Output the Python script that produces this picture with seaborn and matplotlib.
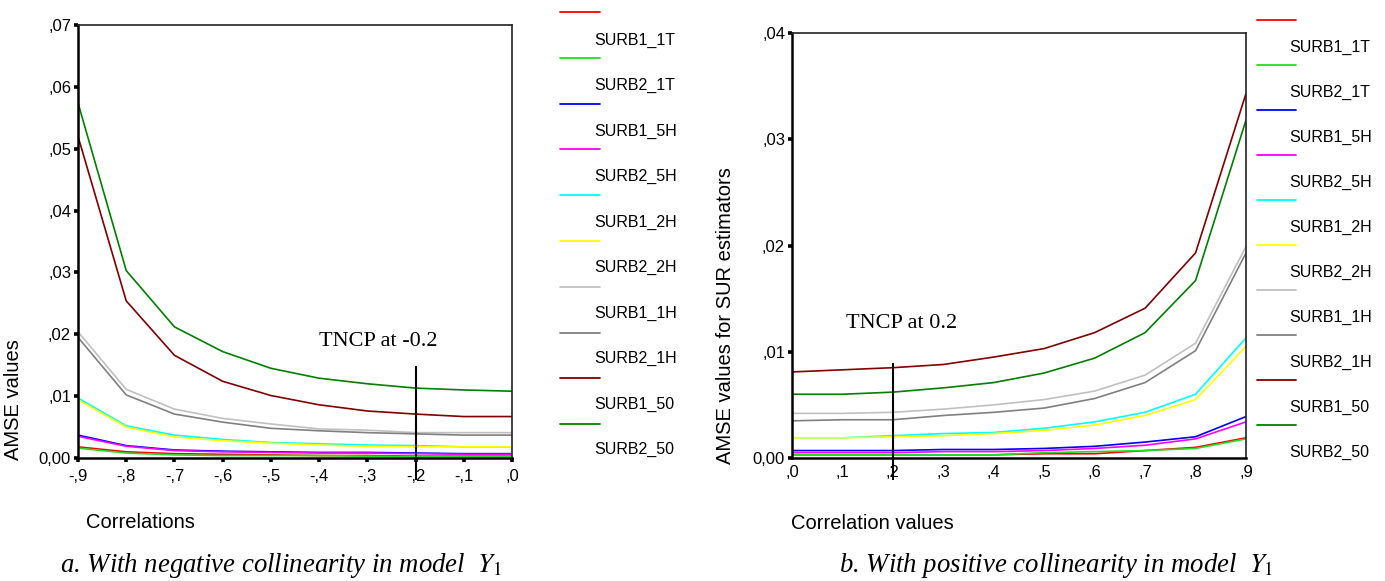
import numpy as np
import pandas as pd
import matplotlib
matplotlib.use("Agg")
import matplotlib.pyplot as plt
from matplotlib.lines import Line2D
import seaborn as sns

# ---- data -------------------------------------------------------------
corr_neg = [-0.9, -0.8, -0.7, -0.6, -0.5, -0.4, -0.3, -0.2, -0.1, 0.0]
corr_pos = [0.0, 0.1, 0.2, 0.3, 0.4, 0.5, 0.6, 0.7, 0.8, 0.9]

series = ["SURB1_1T", "SURB2_1T", "SURB1_5H", "SURB2_5H", "SURB1_2H",
          "SURB2_2H", "SURB1_1H", "SURB2_1H", "SURB1_50", "SURB2_50"]
colors = ["#ff0000", "#22dd22", "#0000ff", "#ff00ff", "#00ffff",
          "#ffff00", "#c0c0c0", "#808080", "#800000", "#008000"]

neg_SURB1_1T = [0.0018, 0.0010, 0.0007, 0.0006, 0.0005, 0.0004, 0.0004, 0.0003, 0.0003, 0.0003]
neg_SURB2_1T = [0.0016, 0.0008, 0.0005, 0.0004, 0.0004, 0.0004, 0.0003, 0.0002, 0.0002, 0.0002]
neg_SURB1_5H = [0.0037, 0.0020, 0.0013, 0.0011, 0.0010, 0.0009, 0.0009, 0.0008, 0.0007, 0.0007]
neg_SURB2_5H = [0.0035, 0.0019, 0.0012, 0.0010, 0.0009, 0.0008, 0.0008, 0.0007, 0.0006, 0.0006]
neg_SURB1_2H = [0.0097, 0.0052, 0.0037, 0.0030, 0.0025, 0.0023, 0.0021, 0.0020, 0.0018, 0.0018]
neg_SURB2_2H = [0.0094, 0.0050, 0.0034, 0.0028, 0.0024, 0.0021, 0.0019, 0.0018, 0.0018, 0.0018]
neg_SURB1_1H = [0.0204, 0.0111, 0.0079, 0.0064, 0.0055, 0.0047, 0.0045, 0.0041, 0.0041, 0.0041]
neg_SURB2_1H = [0.0195, 0.0102, 0.0071, 0.0058, 0.0048, 0.0044, 0.0041, 0.0039, 0.0037, 0.0037]
neg_SURB1_50 = [0.0520, 0.0254, 0.0166, 0.0124, 0.0101, 0.0086, 0.0076, 0.0071, 0.0067, 0.0067]
neg_SURB2_50 = [0.0574, 0.0303, 0.0212, 0.0172, 0.0145, 0.0129, 0.0120, 0.0113, 0.0110, 0.0108]

pos_SURB1_1T = [0.0003, 0.0003, 0.0003, 0.0003, 0.0003, 0.0004, 0.0004, 0.0007, 0.0010, 0.0019]
pos_SURB2_1T = [0.0003, 0.0003, 0.0003, 0.0003, 0.0003, 0.0005, 0.0006, 0.0007, 0.0009, 0.0018]
pos_SURB1_5H = [0.0007, 0.0007, 0.0007, 0.0008, 0.0008, 0.0009, 0.0011, 0.0015, 0.0020, 0.0039]
pos_SURB2_5H = [0.0005, 0.0005, 0.0005, 0.0006, 0.0006, 0.0007, 0.0009, 0.0012, 0.0018, 0.0034]
pos_SURB1_2H = [0.0019, 0.0019, 0.0021, 0.0023, 0.0024, 0.0028, 0.0034, 0.0043, 0.0060, 0.0113]
pos_SURB2_2H = [0.0019, 0.0019, 0.0020, 0.0021, 0.0023, 0.0026, 0.0031, 0.0040, 0.0055, 0.0105]
pos_SURB1_1H = [0.0042, 0.0042, 0.0043, 0.0046, 0.0050, 0.0055, 0.0063, 0.0078, 0.0108, 0.0199]
pos_SURB2_1H = [0.0035, 0.0036, 0.0036, 0.0040, 0.0043, 0.0047, 0.0056, 0.0071, 0.0101, 0.0193]
pos_SURB1_50 = [0.0081, 0.0083, 0.0085, 0.0088, 0.0095, 0.0103, 0.0118, 0.0141, 0.0193, 0.0343]
pos_SURB2_50 = [0.0060, 0.0060, 0.0062, 0.0066, 0.0071, 0.0080, 0.0094, 0.0118, 0.0167, 0.0318]

neg_values = [neg_SURB1_1T, neg_SURB2_1T, neg_SURB1_5H, neg_SURB2_5H, neg_SURB1_2H,
              neg_SURB2_2H, neg_SURB1_1H, neg_SURB2_1H, neg_SURB1_50, neg_SURB2_50]
pos_values = [pos_SURB1_1T, pos_SURB2_1T, pos_SURB1_5H, pos_SURB2_5H, pos_SURB1_2H,
              pos_SURB2_2H, pos_SURB1_1H, pos_SURB2_1H, pos_SURB1_50, pos_SURB2_50]

neg_yticks = [0.0, 0.01, 0.02, 0.03, 0.04, 0.05, 0.06, 0.07]
pos_yticks = [0.0, 0.01, 0.02, 0.03, 0.04]
tncp_neg = -0.2
tncp_pos = 0.2


def long_frame(x, values):
    rows = []
    for name, vals in zip(series, values):
        for xv, yv in zip(x, vals):
            rows.append({"corr": xv, "amse": yv, "estimator": name})
    return pd.DataFrame(rows)


def comma_label(v, decimals, zero):
    if abs(v) < 1e-12:
        return zero
    s = f"{abs(v):.{decimals}f}".replace(".", ",")
    if s.startswith("0"):
        s = s[1:]
    return ("-" if v < 0 else "") + s


# ---- style ------------------------------------------------------------
sns.set_style("white")
plt.rcParams["font.family"] = ["Liberation Sans", "DejaVu Sans"]
plt.rcParams["mathtext.fontset"] = "stix"
for key in ["text.color", "axes.labelcolor", "xtick.color", "ytick.color"]:
    plt.rcParams[key] = "black"

SANS = "Liberation Sans"
SERIF = "Liberation Serif"
palette = dict(zip(series, colors))

W, H = 1385, 581
fig = plt.figure(figsize=(W / 100, H / 100), dpi=100)
ax1 = fig.add_axes([78 / W, 1 - 458 / H, 434 / W, 433 / H])
ax2 = fig.add_axes([792 / W, 1 - 458 / H, 454 / W, 425 / H])


def style_axes(ax, show_xticks):
    for side in ["left", "bottom"]:
        ax.spines[side].set_linewidth(1.8)
        ax.spines[side].set_color("black")
    for side in ["top", "right"]:
        ax.spines[side].set_linewidth(1.2)
        ax.spines[side].set_color("#222222")
    ax.tick_params(axis="y", direction="out", length=3, width=2.6,
                   color="black", labelcolor="black", labelsize=12, pad=2, left=True)
    ax.tick_params(axis="x", direction="out", length=3 if show_xticks else 0,
                   width=2.6, color="black", labelcolor="black", labelsize=12,
                   pad=5, bottom=True)
    ax.grid(False)


# ---- left panel: negative correlations --------------------------------
df_neg = long_frame(corr_neg, neg_values)
sns.lineplot(data=df_neg, x="corr", y="amse", hue="estimator", hue_order=series,
             palette=palette, linewidth=1.2, legend=False, ax=ax1)
ax1.set_xlim(-0.9, 0.0)
ax1.set_ylim(0.0, 0.07)
ax1.set_xticks(corr_neg)
ax1.set_xticklabels([comma_label(v, 1, ",0") for v in corr_neg])
ax1.set_yticks(neg_yticks)
ax1.set_yticklabels([comma_label(v, 2, "0,00") for v in neg_yticks])
style_axes(ax1, True)
ax1.set_xlabel("Correlations", fontsize=14.5, family=SANS)
ax1.set_ylabel("AMSE values", fontsize=14.5, family=SANS)
ax1.xaxis.set_label_coords(0.143, -0.150)
ax1.xaxis.label.set_va("center")
ax1.yaxis.set_label_coords(-0.127, 0.136)
ax1.vlines(tncp_neg, -0.00355, 0.0148, color="black", linewidth=1.5, clip_on=False, zorder=5)
ax1.text(-0.40, 0.0188, "TNCP at -0.2", family=SERIF, fontsize=16, va="center", ha="left")

# ---- right panel: positive correlations -------------------------------
df_pos = long_frame(corr_pos, pos_values)
sns.lineplot(data=df_pos, x="corr", y="amse", hue="estimator", hue_order=series,
             palette=palette, linewidth=1.2, legend=False, ax=ax2)
ax2.set_xlim(0.0, 0.9)
ax2.set_ylim(0.0, 0.04)
ax2.set_xticks(corr_pos)
ax2.set_xticklabels([comma_label(v, 1, ",0") for v in corr_pos])
ax2.set_yticks(pos_yticks)
ax2.set_yticklabels([comma_label(v, 2, "0,00") for v in pos_yticks])
style_axes(ax2, False)
ax2.set_xlabel("Correlation values", fontsize=14.5, family=SANS)
ax2.set_ylabel("AMSE values for SUR estimators", fontsize=14.5, family=SANS)
ax2.xaxis.set_label_coords(0.178, -0.153)
ax2.xaxis.label.set_va("center")
ax2.yaxis.set_label_coords(-0.1256, 0.334)
ax2.vlines(tncp_pos, -0.0021, 0.0089, color="black", linewidth=1.5, clip_on=False, zorder=5)
ax2.text(0.108, 0.0127, "TNCP at 0.2", family=SERIF, fontsize=16, va="center", ha="left")


# ---- legends: sample line above each label ---------------------------
def draw_key(x0, x1, xt, line_y0, line_step, text_y0, text_step):
    for i, (name, col) in enumerate(zip(series, colors)):
        ly = 1 - (line_y0 + i * line_step) / H
        fig.add_artist(Line2D([x0 / W, x1 / W], [ly, ly], color=col, linewidth=1.3))
        ty = 1 - (text_y0 + i * text_step) / H
        fig.text(xt / W, ty, name, family=SANS, fontsize=11.5, color="black",
                 ha="left", va="center")


draw_key(560, 600, 594, 12, 45.8, 40, 45.5)
draw_key(1257, 1296, 1289, 20, 45.0, 47, 45.0)

# ---- captions ---------------------------------------------------------
fig.text(60 / W, 1 - 566 / H, r"a. With negative collinearity in model  $Y_1$",
         family=SERIF, style="italic", fontsize=19.3, color="black", ha="left", va="center")
fig.text(839 / W, 1 - 566 / H, r"b. With positive collinearity in model  $Y_1$",
         family=SERIF, style="italic", fontsize=19.3, color="black", ha="left", va="center")

fig.savefig("out.png", dpi=100, facecolor="white")
